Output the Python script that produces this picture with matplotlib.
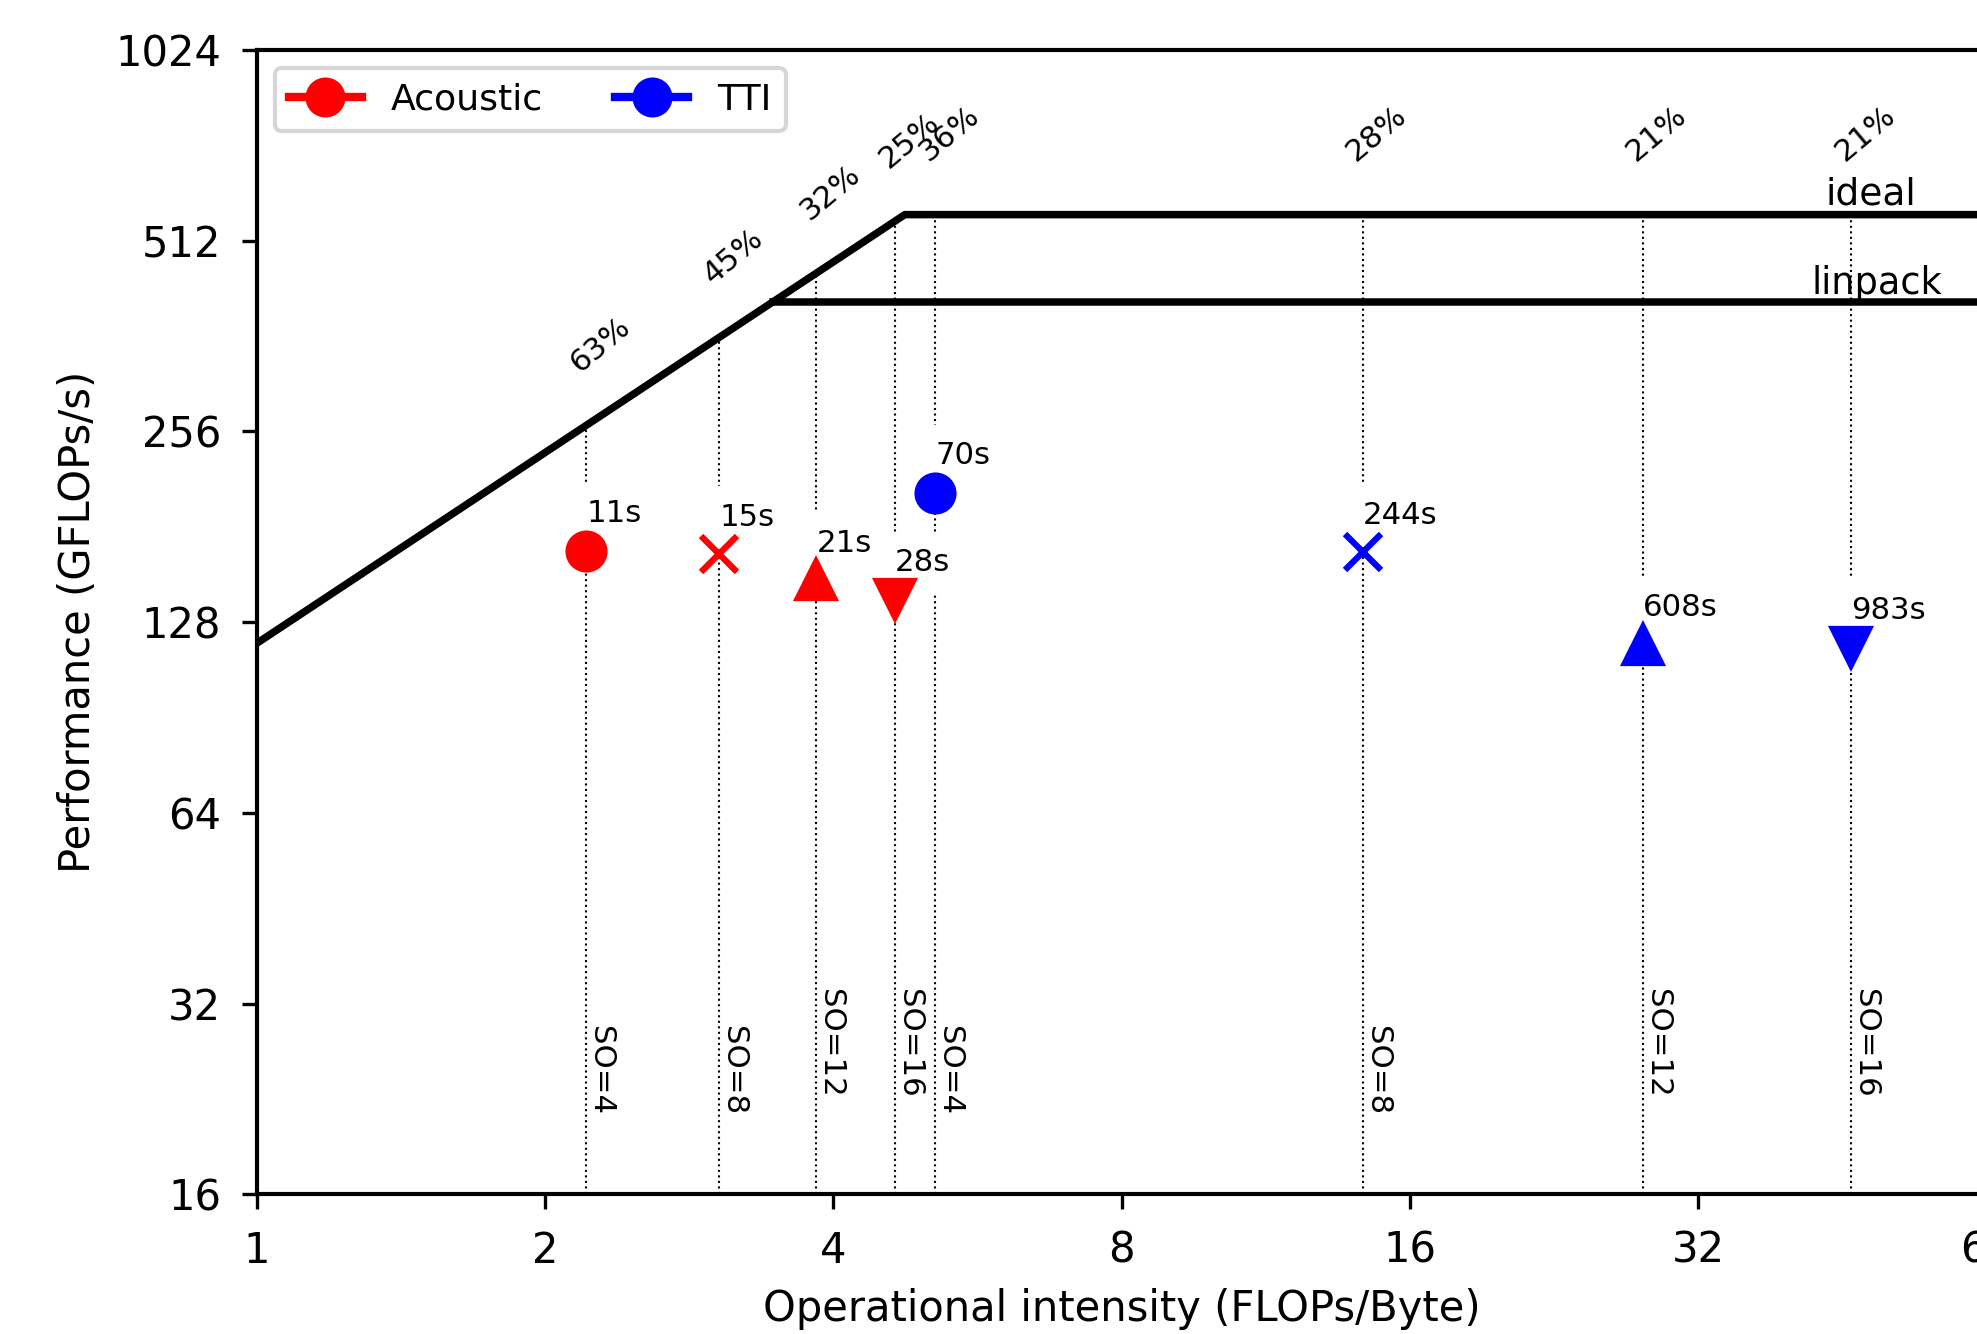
import numpy as np
import matplotlib.pyplot as plt
from matplotlib.lines import Line2D
from matplotlib.ticker import FuncFormatter, NullLocator

# roofline of the machine
bandwidth = 118.5      # GB/s
peak_ideal = 563.0     # GFLOPs/s
peak_linpack = 410.0   # GFLOPs/s

space_orders = [4, 8, 12, 16]
markers = ['o', 'x', '^', 'v']

acoustic_oi = [2.21, 3.04, 3.84, 4.64]
acoustic_perf = [166, 164, 149, 139]
acoustic_time = [11, 15, 21, 28]
acoustic_eff = [63, 45, 32, 25]

tti_oi = [5.11, 14.28, 28.0, 46.2]
tti_perf = [205, 165, 118, 117]
tti_time = [70, 244, 608, 983]
tti_eff = [36, 28, 21, 21]

xticks = [1, 2, 4, 8, 16, 32, 64]
yticks = [16, 32, 64, 128, 256, 512, 1024]

fig = plt.figure(figsize=(1977 / 300, 1334 / 300), dpi=300)
ax = fig.add_axes([0.1298, 0.1047, 0.875, 0.8578])
ax.set_xscale('log', base=2)
ax.set_yscale('log', base=2)
ax.set_xlim(1, 64)
ax.set_ylim(16, 1024)

def roof(x):
    return min(bandwidth * x, peak_ideal)

# roofs
ridge = peak_ideal / bandwidth
ax.plot([1, ridge, 64], [bandwidth, peak_ideal, peak_ideal], color='k', lw=1.8)
ax.plot([peak_linpack / bandwidth, 64], [peak_linpack, peak_linpack], color='k', lw=1.8)
ax.annotate('ideal', (48.5, peak_ideal), xytext=(0, 0.5), textcoords='offset points',
            ha='center', va='bottom', fontsize=9)
ax.text(49.2, peak_linpack, 'linpack', ha='center', va='bottom', fontsize=8.8)

def draw(oi, perf, times, eff, color):
    for x, y, t, e, so, m in zip(oi, perf, times, eff, space_orders, markers):
        r = roof(x)
        ax.plot([x, x], [16, r], color='k', ls=':', lw=0.5, zorder=1)
        ax.plot(x, y, marker=m, color=color, ms=8.6, mew=1.5, ls='none', zorder=4)
        ax.annotate('%ds' % t, (x, y), xytext=(0, 6.8), textcoords='offset points',
                    ha='left', va='baseline', fontsize=7.4, zorder=3,
                    bbox=dict(facecolor='white', edgecolor='none'))
        ax.annotate('%d%%' % e, (x, r), xytext=(3.4, 19.4), textcoords='offset points',
                    ha='center', va='center', rotation=40, fontsize=7.4)
        ytop = 29.5 if so < 10 else 33.8
        ax.text(x, ytop, 'SO=%d' % so, rotation=270, ha='left', va='top', fontsize=7.4)

draw(acoustic_oi, acoustic_perf, acoustic_time, acoustic_eff, 'red')
draw(tti_oi, tti_perf, tti_time, tti_eff, 'blue')

ax.set_xticks(xticks)
ax.set_yticks(yticks)
ax.xaxis.set_minor_locator(NullLocator())
ax.yaxis.set_minor_locator(NullLocator())
fmt = FuncFormatter(lambda v, p: '%d' % v)
ax.xaxis.set_major_formatter(fmt)
ax.yaxis.set_major_formatter(fmt)
ax.tick_params(labelsize=10, pad=5)
for s in ax.spines.values():
    s.set_linewidth(1.0)

ax.set_xlabel('Operational intensity (FLOPs/Byte)', fontsize=10)
ax.set_ylabel('Performance (GFLOPs/s)', fontsize=10)

handles = [Line2D([], [], color='red', marker='o', lw=2, ms=8.6),
           Line2D([], [], color='blue', marker='o', lw=2, ms=8.6)]
ax.legend(handles, ['Acoustic', 'TTI'], loc='upper left', ncol=2, fontsize=8.7)

fig.savefig('out.png', dpi=300)
